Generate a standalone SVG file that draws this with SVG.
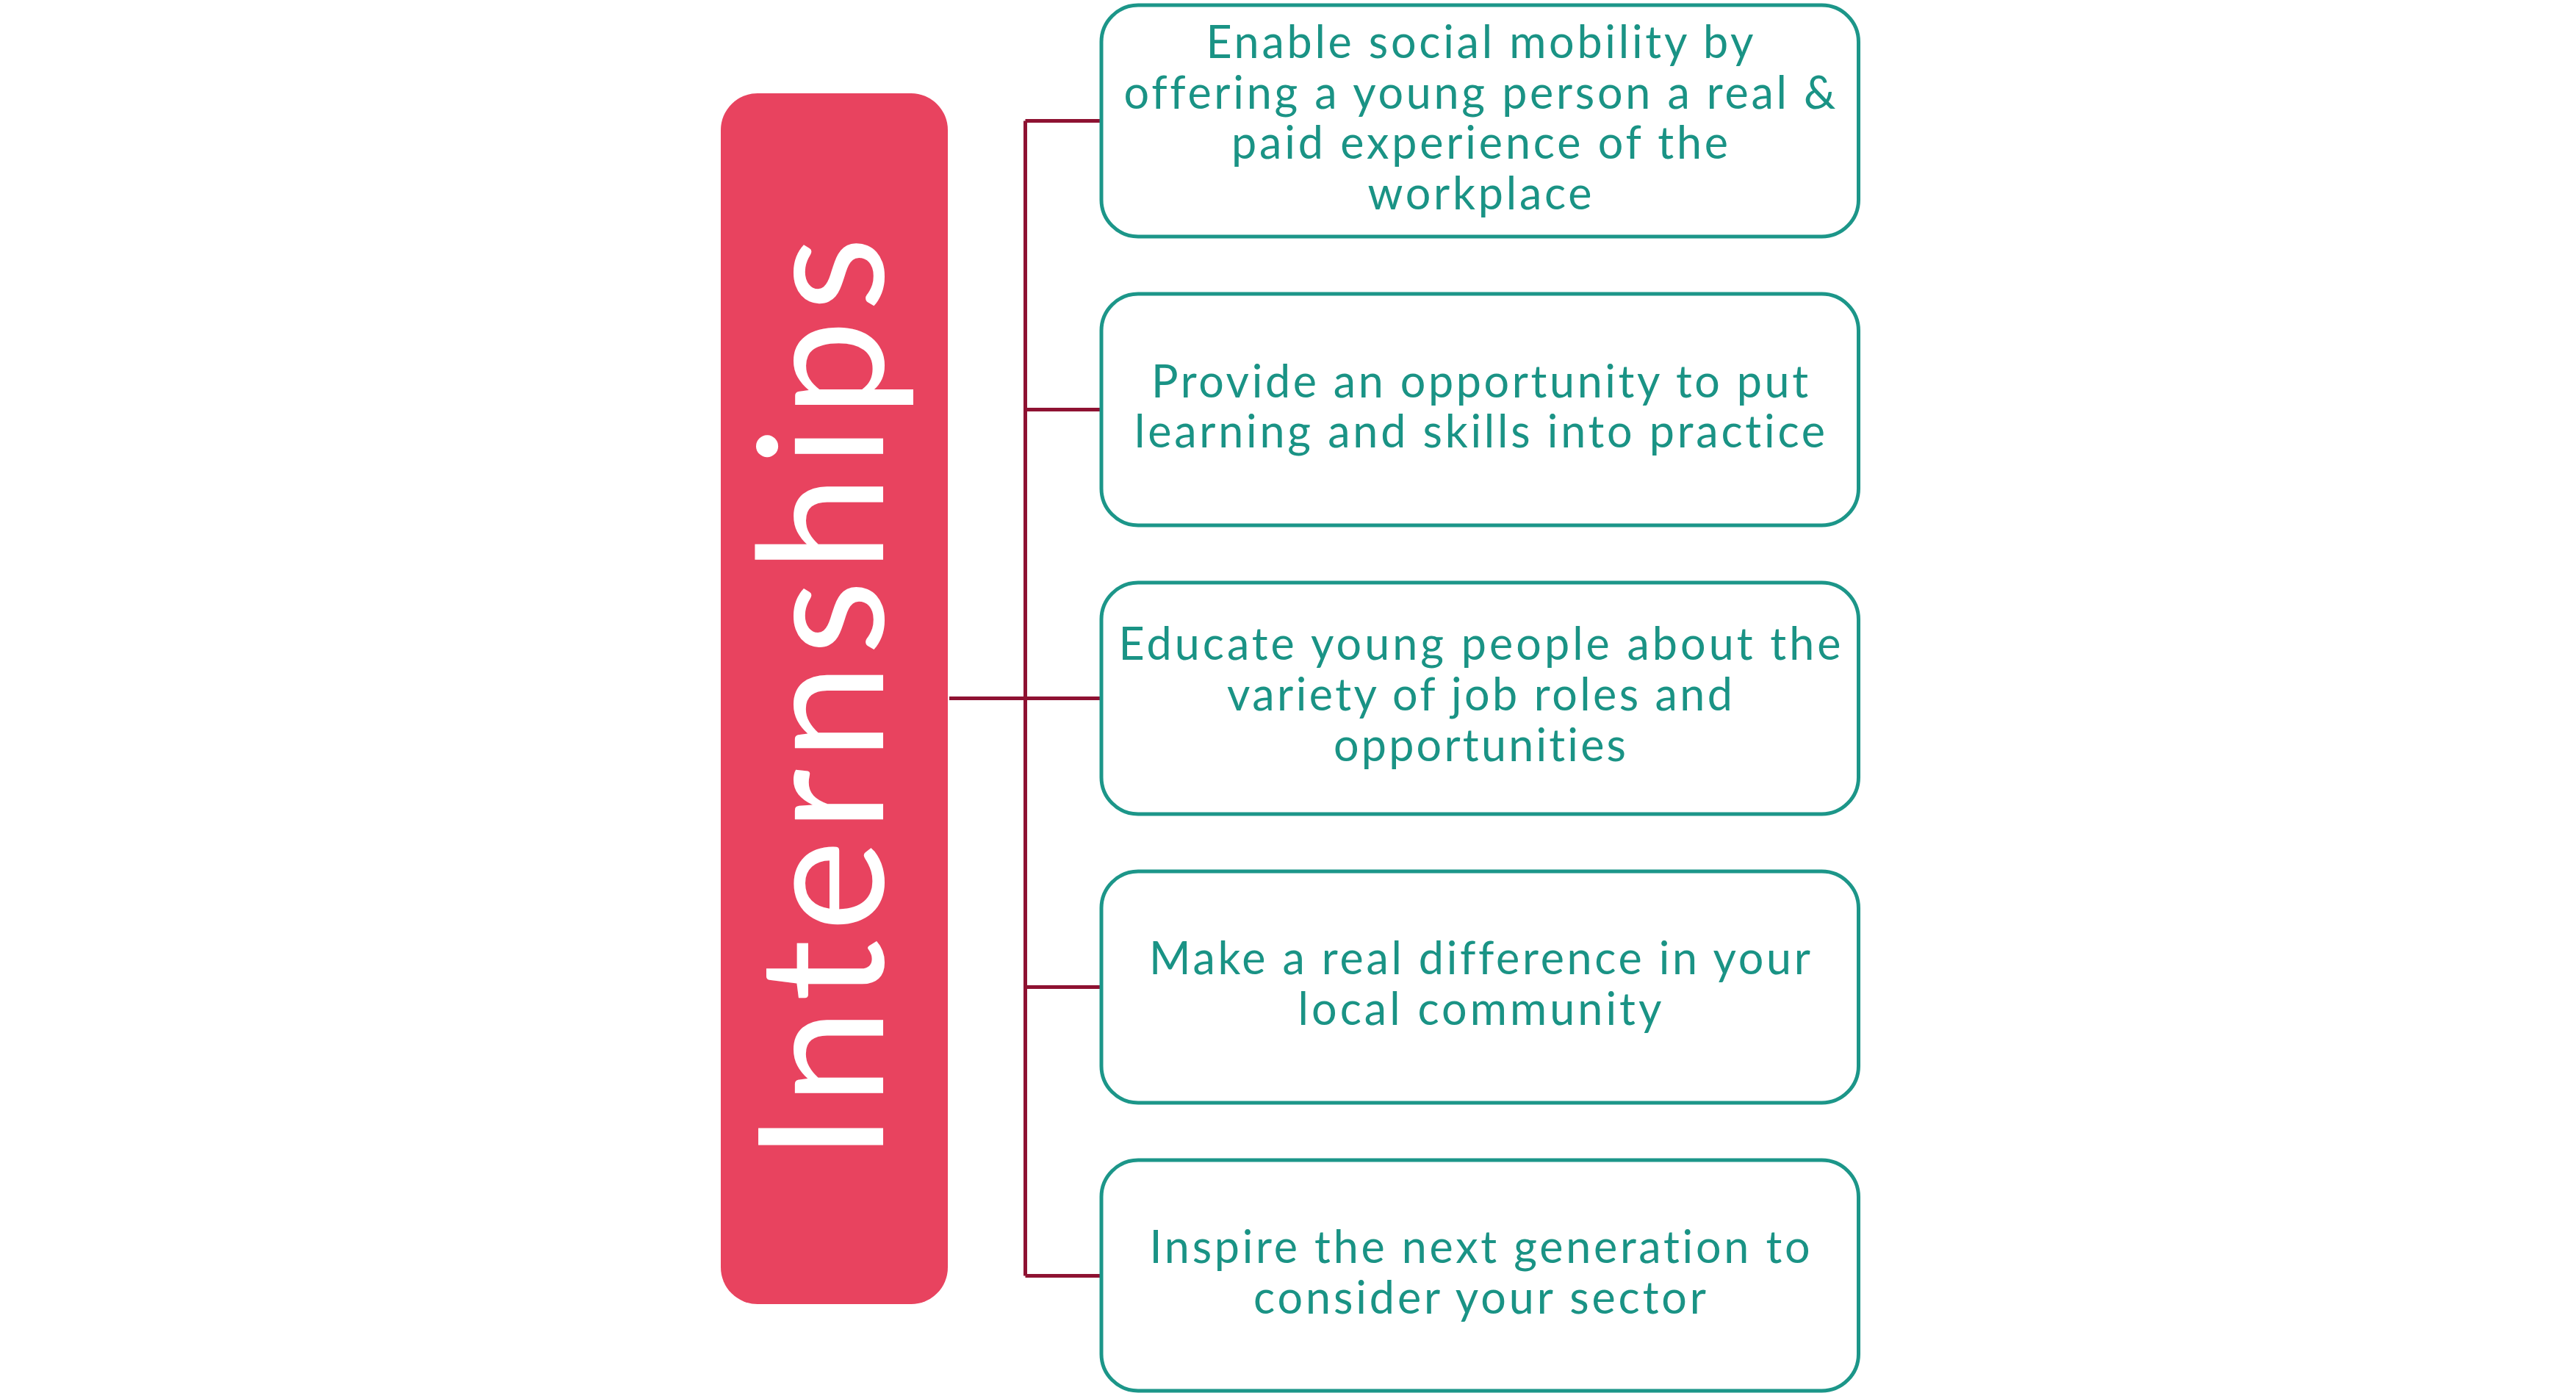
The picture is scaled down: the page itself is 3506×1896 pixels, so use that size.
<svg xmlns="http://www.w3.org/2000/svg" width="3506" height="1896" viewBox="0 0 3506 1896">
<style>
.bg{fill:#ffffff}
.hub{fill:#E8435F}
.hubtxt{fill:#ffffff;font-family:Lato,"Noto Sans","Liberation Sans",sans-serif;font-size:236px;font-variant-ligatures:none}
.box{fill:#ffffff;stroke:#1C9689;stroke-width:5}
.txt{fill:#1A9385;font-family:Lato,"Noto Sans","Liberation Sans",sans-serif;font-size:61px;text-anchor:middle;font-variant-ligatures:none;font-feature-settings:"liga" 0,"clig" 0}
.conn{stroke:#8E1232;stroke-width:5;fill:none}
</style>
<rect class="bg" x="0" y="0" width="3506" height="1896"/>
<g id="connectors">
<path class="conn" d="M1395.5 164.5 V1736.5"/>
<path class="conn" d="M1292 950.5 H1499"/>
<path class="conn" d="M1395.5 164.5 H1499"/>
<path class="conn" d="M1395.5 557.5 H1499"/>
<path class="conn" d="M1395.5 1343.5 H1499"/>
<path class="conn" d="M1395.5 1736.5 H1499"/>
</g>
<g id="hub">
<rect class="hub" x="981" y="127" width="309" height="1648" rx="50"/>
<text class="hubtxt" transform="translate(1202,1580) rotate(-90)" x="0" y="0" textLength="1258" lengthAdjust="spacing">Internships</text>
</g>
<g id="node1">
<rect class="box" x="1499" y="7" width="1030.5" height="315" rx="50"/>
<text class="txt" x="2014" y="79" textLength="745" lengthAdjust="spacing">Enable social mobility by</text>
<text class="txt" x="2014" y="148" textLength="969" lengthAdjust="spacing">offering a young person a real &amp;</text>
<text class="txt" x="2014" y="216" textLength="676" lengthAdjust="spacing">paid experience of the</text>
<text class="txt" x="2014" y="285" textLength="305" lengthAdjust="spacing">workplace</text>
</g>
<g id="node2">
<rect class="box" x="1499" y="400" width="1030.5" height="315" rx="50"/>
<text class="txt" x="2014" y="541" textLength="894" lengthAdjust="spacing">Provide an opportunity to put</text>
<text class="txt" x="2014" y="609" textLength="940" lengthAdjust="spacing">learning and skills into practice</text>
</g>
<g id="node3">
<rect class="box" x="1499" y="793" width="1030.5" height="315" rx="50"/>
<text class="txt" x="2014" y="898" textLength="983" lengthAdjust="spacing">Educate young people about the</text>
<text class="txt" x="2014" y="967" textLength="688" lengthAdjust="spacing">variety of job roles and</text>
<text class="txt" x="2014" y="1036" textLength="398" lengthAdjust="spacing">opportunities</text>
</g>
<g id="node4">
<rect class="box" x="1499" y="1186" width="1030.5" height="315" rx="50"/>
<text class="txt" x="2014" y="1326" textLength="900" lengthAdjust="spacing">Make a real difference in your</text>
<text class="txt" x="2014" y="1395" textLength="495" lengthAdjust="spacing">local community</text>
</g>
<g id="node5">
<rect class="box" x="1499" y="1579" width="1030.5" height="314" rx="50"/>
<text class="txt" x="2014" y="1719" textLength="899" lengthAdjust="spacing">Inspire the next generation to</text>
<text class="txt" x="2014" y="1788" textLength="616" lengthAdjust="spacing">consider your sector</text>
</g>
</svg>
